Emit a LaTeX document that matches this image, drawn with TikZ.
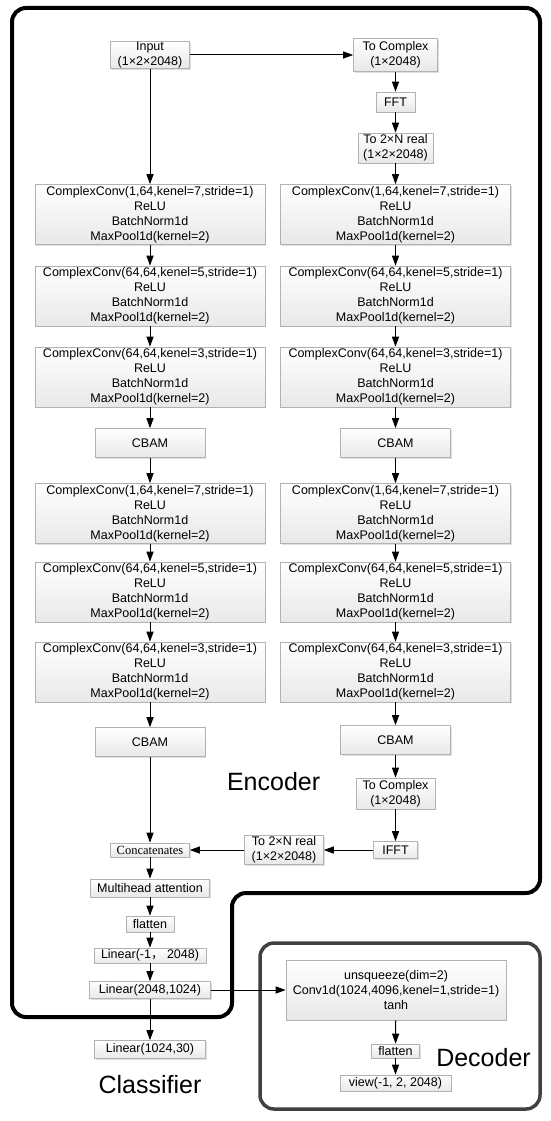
\documentclass[tikz,border=0pt]{standalone}
\usepackage{fontspec}
\setmainfont{Liberation Sans}
\newfontfamily\catfont{Liberation Serif}
\newfontfamily\cjk{Noto Sans CJK SC}
\usetikzlibrary{arrows.meta,shadows}

\newcommand{\cconv}[2]{ComplexConv(#1,kenel=#2,stride=1)\\ReLU\\BatchNorm1d\\MaxPool1d(kernel=2)}

\tikzset{
  blk/.style={draw=gray!60, line width=0.6pt, top color=white, bottom color=gray!18,
    align=center, inner sep=0pt, font=\fontsize{12.5}{15}\selectfont,
    drop shadow={shadow xshift=1.2pt, shadow yshift=-1.2pt, opacity=0.25}},
  convbox/.style={blk, minimum width=230pt, minimum height=60pt},
  cbambox/.style={blk, minimum width=110pt, minimum height=29pt},
  flow/.style={-{Triangle[length=10pt,width=7pt]}, line width=1pt},
  biglabel/.style={font=\fontsize{25}{30}\selectfont},
}

\begin{document}
\begin{tikzpicture}[x=1pt, y=-1pt]
    \useasboundingbox (0,0) rectangle (550,1121);

    %%% Frames %%%
    \draw[line width=4pt, rounded corners=14pt] (12,500) -- (12,8) -- (540,8) -- (540,893) -- (232,893) -- (232,1017) -- (12,1017) -- cycle;
    \draw[line width=3.5pt, draw=black!75, rounded corners=14pt] (260,943) rectangle (540,1109);

    %%% Left branch %%%
    \node[blk, minimum width=79pt, minimum height=27pt] (in) at (150,55) {Input\\(1×2×2048)};
    \node[convbox] (L1) at (150,214.5) {\cconv{1,64}{7}};
    \node[convbox] (L2) at (150,296) {\cconv{64,64}{5}};
    \node[convbox] (L3) at (150,377) {\cconv{64,64}{3}};
    \node[cbambox] (L4) at (150,443) {CBAM};
    \node[convbox] (L5) at (150,513.5) {\cconv{1,64}{7}};
    \node[convbox] (L6) at (150,592) {\cconv{64,64}{5}};
    \node[convbox] (L7) at (150,672) {\cconv{64,64}{3}};
    \node[cbambox] (L8) at (150,742) {CBAM};

    %%% Right branch %%%
    \node[blk, minimum width=84pt, minimum height=33pt] (tc) at (395.5,55) {To Complex\\(1×2048)};
    \node[blk, minimum width=39pt, minimum height=20pt] (fft) at (395.5,102) {FFT};
    \node[blk, minimum width=75pt, minimum height=30pt] (tr) at (395.5,148) {To 2×N real\\(1×2×2048)};
    \node[convbox] (R1) at (395.5,214.5) {\cconv{1,64}{7}};
    \node[convbox] (R2) at (395.5,296) {\cconv{64,64}{5}};
    \node[convbox] (R3) at (395.5,377) {\cconv{64,64}{3}};
    \node[cbambox] (R4) at (395.5,443) {CBAM};
    \node[convbox] (R5) at (395.5,513.5) {\cconv{1,64}{7}};
    \node[convbox] (R6) at (395.5,592) {\cconv{64,64}{5}};
    \node[convbox] (R7) at (395.5,672) {\cconv{64,64}{3}};
    \node[cbambox] (R8) at (395.5,740) {CBAM};
    \node[blk, minimum width=79pt, minimum height=31pt] (tc2) at (395.5,793.5) {To Complex\\(1×2048)};
    \node[blk, minimum width=44pt, minimum height=17pt] (ifft) at (395.5,850) {IFFT};
    \node[blk, minimum width=79pt, minimum height=29pt] (tr2) at (284,850) {To 2×N real\\(1×2×2048)};

    %%% Classifier %%%
    \node[blk, minimum width=79pt, minimum height=14pt, font=\catfont\fontsize{12.5}{15}\selectfont] (cat) at (150,850) {Concatenates};
    \node[blk, minimum width=119pt, minimum height=18pt] (mha) at (150,888) {Multihead attention};
    \node[blk, minimum width=48pt, minimum height=16pt] (fl) at (150,924) {flatten};
    \node[blk, minimum width=112pt, minimum height=15pt] (lin1) at (150,955.5) {Linear(-1{\cjk ，} 2048)};
    \node[blk, minimum width=121pt, minimum height=17pt] (lin2) at (150,990) {Linear(2048,1024)};
    \node[blk, minimum width=111pt, minimum height=18pt] (lin3) at (150,1049.5) {Linear(1024,30)};

    %%% Decoder %%%
    \node[blk, minimum width=220pt, minimum height=60pt] (dec) at (396,990) {unsqueeze(dim=2)\\Conv1d(1024,4096,kenel=1,stride=1)\\tanh};
    \node[blk, minimum width=48pt, minimum height=14pt] (dfl) at (395.5,1051) {flatten};
    \node[blk, minimum width=111pt, minimum height=16pt] (view) at (395.5,1083) {view(-1, 2, 2048)};

    %%% Labels %%%
    \node[biglabel] (enc) at (273.6,782) {Encoder};
    \node[biglabel] (cls) at (150,1085) {Classifier};
    \node[biglabel] (dlab) at (483.5,1058) {Decoder};

    %%% Arrows %%%
    \draw[flow] (in) -- (tc);
    \draw[flow] (in) -- (L1);
    \draw[flow] (L1) -- (L2);
    \draw[flow] (L2) -- (L3);
    \draw[flow] (L3) -- (L4);
    \draw[flow] (L4) -- (L5);
    \draw[flow] (L5) -- (L6);
    \draw[flow] (L6) -- (L7);
    \draw[flow] (L7) -- (L8);
    \draw[flow] (L8) -- (cat);
    \draw[flow] (tc) -- (fft);
    \draw[flow] (fft) -- (tr);
    \draw[flow] (tr) -- (R1);
    \draw[flow] (R1) -- (R2);
    \draw[flow] (R2) -- (R3);
    \draw[flow] (R3) -- (R4);
    \draw[flow] (R4) -- (R5);
    \draw[flow] (R5) -- (R6);
    \draw[flow] (R6) -- (R7);
    \draw[flow] (R7) -- (R8);
    \draw[flow] (R8) -- (tc2);
    \draw[flow] (tc2) -- (ifft);
    \draw[flow] (ifft) -- (tr2);
    \draw[flow] (tr2) -- (cat);
    \draw[flow] (cat) -- (mha);
    \draw[flow] (mha) -- (fl);
    \draw[flow] (fl) -- (lin1);
    \draw[flow] (lin1) -- (lin2);
    \draw[flow] (lin2) -- (lin3);
    \draw[flow] (lin2) -- (dec);
    \draw[flow] (dec) -- (dfl);
    \draw[flow] (dfl) -- (view);

\end{tikzpicture}
\end{document}
